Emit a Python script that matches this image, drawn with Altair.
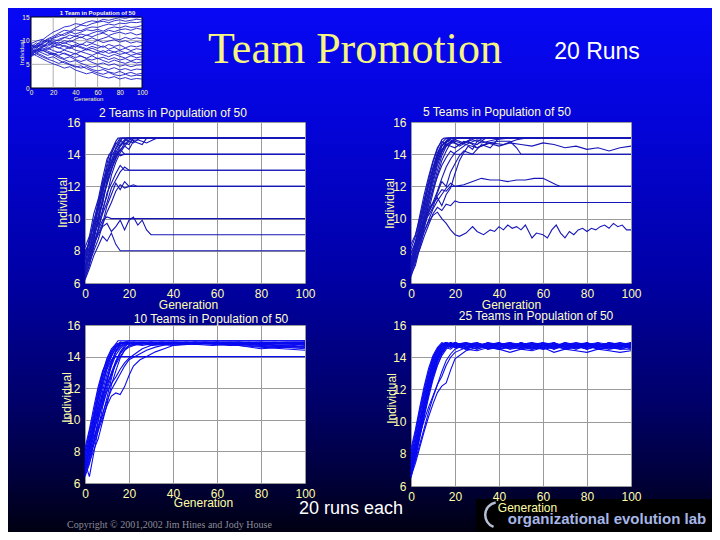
import altair as alt
import pandas as pd

# ---------------- data ----------------
x_ticks = [0, 20, 40, 60, 80, 100]
y_ticks = [6, 8, 10, 12, 14, 16]
small_y_ticks = [0, 5, 10, 15]
small_grid_x = [20, 40, 60, 80]
small_grid_y = [5, 10]

panel_titles = ["2 Teams in Population of 50", "5 Teams in Population of 50",
                "10 Teams in Population of 50", "25 Teams in Population of 50"]
small_title = "1 Team in Population of 50"
main_title = "Team Promotion"
runs_label = "20 Runs"
each_label = "20 runs each"
copyright_label = "Copyright \u00a9 2001,2002 Jim Hines and Jody House"
lab_label = "organizational evolution lab"

# 1 team: generations every 5
small_gens = list(range(0, 101, 5))
small_runs = [
    [8.0, 9.2, 10.1, 11.0, 11.8, 12.3, 12.9, 13.1, 13.6, 13.4, 13.9, 14.2, 14.0, 14.5, 14.3, 14.6, 14.9, 14.7, 15.0, 14.8, 15.0],
    [7.5, 8.4, 9.6, 10.4, 10.9, 11.6, 12.2, 12.0, 12.7, 13.3, 13.1, 13.6, 13.9, 14.1, 13.8, 14.2, 14.4, 14.1, 14.3, 14.5, 14.4],
    [8.6, 9.0, 9.8, 10.2, 10.6, 11.3, 11.1, 11.7, 12.3, 12.1, 12.6, 12.9, 12.8, 13.2, 13.5, 13.3, 13.7, 13.6, 13.9, 13.8, 14.0],
    [9.4, 9.9, 10.3, 9.7, 10.5, 10.9, 11.5, 11.9, 11.4, 11.8, 12.3, 12.1, 12.4, 12.0, 12.6, 12.9, 12.7, 13.1, 12.8, 12.9, 13.2],
    [7.2, 8.1, 8.8, 9.5, 10.2, 10.0, 10.6, 11.2, 10.9, 11.4, 11.1, 11.6, 12.0, 11.7, 12.2, 11.9, 12.3, 12.5, 12.2, 12.6, 12.4],
    [8.3, 8.8, 9.4, 10.1, 9.6, 10.3, 10.7, 10.4, 11.0, 10.6, 11.2, 10.8, 11.3, 11.6, 11.1, 11.5, 11.8, 11.4, 11.7, 11.2, 11.5],
    [6.8, 7.9, 8.6, 9.1, 9.8, 9.4, 10.0, 9.7, 10.3, 10.8, 10.2, 10.6, 10.1, 10.5, 10.9, 10.4, 10.2, 10.7, 10.3, 10.6, 10.4],
    [9.0, 8.5, 9.3, 9.9, 9.2, 9.7, 9.4, 10.0, 9.6, 9.1, 9.8, 9.5, 10.1, 9.6, 9.9, 10.2, 9.7, 10.0, 9.5, 9.8, 9.6],
    [7.9, 8.7, 9.2, 8.8, 9.5, 9.0, 9.6, 9.1, 8.7, 9.3, 8.9, 9.4, 9.0, 8.6, 9.2, 8.8, 9.1, 8.5, 8.9, 8.7, 9.0],
    [8.5, 9.1, 8.6, 9.4, 8.9, 8.4, 9.0, 8.6, 9.2, 8.7, 8.3, 8.8, 8.4, 8.9, 8.2, 8.6, 8.0, 8.4, 7.9, 8.3, 8.1],
    [7.0, 7.8, 8.5, 8.1, 8.7, 9.2, 8.8, 8.3, 8.9, 8.5, 8.0, 8.4, 7.9, 7.5, 8.0, 7.6, 7.9, 7.4, 7.7, 7.3, 7.5],
    [8.8, 9.5, 9.0, 8.4, 8.9, 8.5, 8.1, 8.6, 8.0, 7.7, 8.2, 7.8, 7.4, 7.9, 7.3, 7.6, 7.1, 7.4, 6.9, 7.2, 7.0],
    [7.6, 8.2, 7.8, 8.4, 7.9, 7.5, 8.0, 7.6, 7.2, 7.7, 7.3, 6.9, 7.4, 7.0, 6.6, 7.1, 6.7, 6.3, 6.8, 6.4, 6.6],
    [6.6, 7.4, 8.0, 7.5, 7.1, 7.6, 7.2, 6.8, 7.3, 6.7, 6.3, 6.8, 6.2, 6.5, 6.0, 6.4, 5.9, 6.2, 5.7, 6.1, 5.9],
    [8.2, 7.7, 8.3, 7.8, 7.3, 6.9, 7.4, 6.9, 6.4, 6.8, 6.2, 5.9, 6.3, 5.8, 5.4, 5.9, 5.5, 5.2, 5.6, 5.3, 5.5],
    [7.3, 7.9, 7.4, 6.9, 7.3, 6.7, 6.2, 6.6, 6.0, 5.6, 6.0, 5.4, 5.0, 5.3, 4.8, 5.1, 4.6, 4.9, 4.5, 4.8, 4.9],
    [9.2, 8.6, 8.0, 7.4, 7.0, 6.4, 6.0, 5.5, 5.8, 5.2, 4.8, 4.4, 4.7, 4.2, 3.9, 4.3, 3.8, 4.1, 3.7, 4.0, 3.9],
    [6.9, 7.2, 6.6, 6.1, 5.7, 5.2, 5.6, 5.0, 4.6, 4.2, 4.5, 3.9, 3.6, 3.9, 3.4, 3.1, 3.5, 3.0, 3.3, 2.9, 3.1],
    [8.0, 7.4, 6.9, 6.3, 6.6, 5.9, 5.3, 4.9, 4.4, 4.7, 4.1, 3.6, 3.2, 2.9, 3.3, 2.8, 2.6, 2.9, 2.5, 2.7, 2.6],
    [7.4, 6.8, 6.2, 5.6, 5.1, 4.7, 4.2, 4.5, 3.8, 3.4, 3.0, 3.3, 2.8, 2.4, 2.1, 2.4, 1.9, 2.2, 1.8, 2.0, 1.9],
]

# 2 teams: [generation, individual] points per run
p1_runs = [
    [[0, 7.0], [2, 8.3], [4, 9.1], [6, 10.6], [8, 11.7], [10, 13.2], [12, 14.1], [14, 14.6], [16, 15], [100, 15]],
    [[0, 6.5], [2, 7.9], [4, 9.4], [6, 10.1], [8, 11.9], [10, 12.6], [12, 13.9], [14, 14.3], [17, 15], [100, 15]],
    [[0, 8.2], [2, 8.9], [4, 10.3], [6, 11.2], [8, 12.5], [10, 13.7], [12, 14.2], [14, 14.8], [15, 15], [100, 15]],
    [[0, 7.6], [2, 7.4], [4, 8.8], [6, 9.9], [8, 11.0], [10, 12.2], [12, 13.1], [14, 13.9], [16, 14.5], [18, 14.8], [20, 15], [100, 15]],
    [[0, 6.9], [2, 8.0], [4, 8.6], [6, 10.2], [8, 10.9], [10, 12.4], [12, 13.4], [14, 14.0], [16, 14.2], [18, 14.7], [20, 14.6], [22, 15], [100, 15]],
    [[0, 7.8], [2, 8.6], [4, 9.9], [6, 10.8], [8, 12.3], [10, 13.0], [12, 13.6], [14, 14.4], [16, 14.9], [18, 14.6], [20, 14.9], [24, 15], [100, 15]],
    [[0, 6.3], [2, 7.1], [4, 8.4], [6, 9.3], [8, 10.6], [10, 11.4], [12, 12.7], [14, 13.5], [16, 14.1], [18, 14.5], [20, 14.3], [22, 14.8], [26, 14.6], [28, 15], [100, 15]],
    [[0, 7.4], [2, 8.7], [4, 9.0], [6, 10.9], [8, 11.5], [10, 12.8], [12, 13.3], [14, 14.1], [16, 14.6], [18, 14.9], [22, 14.7], [25, 15], [100, 15]],
    [[0, 8.0], [2, 8.4], [4, 9.7], [6, 11.1], [8, 12.0], [10, 12.9], [12, 14.0], [14, 14.7], [16, 14.5], [19, 15], [100, 15]],
    [[0, 7.1], [2, 7.7], [4, 9.2], [6, 9.6], [8, 11.3], [10, 12.1], [12, 13.0], [14, 13.8], [16, 14.3], [18, 14.5], [20, 14.8], [24, 14.9], [28, 14.7], [31, 14.9], [33, 15], [100, 15]],
    [[0, 7.3], [2, 8.8], [4, 9.5], [6, 10.7], [8, 12.1], [10, 13.4], [11, 14], [100, 14]],
    [[0, 6.7], [2, 7.5], [4, 8.9], [6, 10.0], [8, 11.2], [10, 12.3], [12, 13.1], [14, 13.7], [16, 14.3], [18, 14.0], [100, 14]],
    [[0, 7.9], [2, 8.5], [4, 9.8], [6, 10.5], [8, 11.6], [10, 12.7], [12, 13.5], [14, 14.2], [16, 13.9], [18, 14], [100, 14]],
    [[0, 6.6], [2, 7.3], [4, 8.2], [6, 9.4], [8, 10.3], [10, 11.0], [12, 11.9], [14, 12.4], [16, 12.9], [18, 13.2], [20, 13.0], [100, 13]],
    [[0, 7.5], [2, 8.1], [4, 8.7], [6, 9.8], [8, 10.4], [10, 11.6], [12, 12.2], [14, 12.8], [16, 13.3], [18, 13.0], [100, 13]],
    [[0, 7.0], [2, 7.6], [4, 8.3], [6, 9.1], [8, 9.7], [10, 10.8], [12, 11.5], [14, 12.2], [16, 11.8], [18, 12.3], [20, 12.0], [22, 12.1], [24, 12], [100, 12]],
    [[0, 6.4], [2, 7.2], [4, 8.0], [6, 8.7], [8, 9.6], [10, 10.4], [12, 11.0], [14, 11.7], [16, 12.1], [18, 11.9], [20, 12], [100, 12]],
    [[0, 7.7], [2, 8.2], [4, 8.5], [6, 9.3], [8, 9.9], [10, 10.1], [12, 10.0], [14, 10], [100, 10]],
    [[0, 6.8], [2, 7.8], [4, 8.4], [6, 9.0], [8, 9.5], [10, 9.7], [12, 9.2], [14, 9.5], [16, 9.9], [18, 9.3], [20, 9.9], [22, 10.1], [24, 9.6], [26, 9.9], [28, 9.3], [30, 9.0], [100, 9]],
    [[0, 6.2], [2, 6.9], [4, 7.7], [6, 8.3], [8, 8.9], [10, 8.6], [12, 9.1], [14, 8.4], [16, 8], [100, 8]],
]

# 5 teams
p2_runs = [
    [[0, 7.0], [2, 8.2], [4, 9.5], [6, 10.8], [8, 12.0], [10, 13.1], [12, 14.0], [14, 14.7], [16, 15], [100, 15]],
    [[0, 6.6], [2, 7.6], [4, 8.9], [6, 10.3], [8, 11.4], [10, 12.6], [12, 13.7], [14, 14.5], [17, 15], [100, 15]],
    [[0, 7.8], [2, 8.6], [4, 9.9], [6, 11.2], [8, 12.4], [10, 13.5], [12, 14.3], [14, 14.9], [15, 15], [100, 15]],
    [[0, 7.3], [2, 8.0], [4, 9.2], [6, 10.0], [8, 11.1], [10, 12.2], [12, 13.3], [14, 14.1], [16, 14.7], [18, 15], [100, 15]],
    [[0, 6.4], [2, 7.3], [4, 8.5], [6, 9.7], [8, 10.8], [10, 11.9], [12, 13.0], [14, 13.9], [16, 14.5], [18, 14.8], [20, 15], [100, 15]],
    [[0, 8.1], [2, 8.9], [4, 10.2], [6, 11.5], [8, 12.6], [10, 13.6], [12, 14.4], [14, 14.8], [16, 14.6], [20, 14.9], [24, 14.7], [28, 15], [100, 15]],
    [[0, 7.5], [2, 8.4], [4, 9.3], [6, 10.6], [8, 11.7], [10, 12.9], [12, 13.8], [14, 14.3], [16, 14.6], [20, 14.4], [24, 14.8], [30, 14.6], [34, 15], [100, 15]],
    [[0, 6.9], [2, 7.8], [4, 9.0], [6, 10.1], [8, 11.3], [10, 12.4], [12, 13.5], [14, 14.2], [16, 14.8], [22, 14.6], [28, 14.9], [32, 14.7], [38, 14.9], [44, 15], [100, 15]],
    [[0, 7.2], [2, 8.3], [4, 9.7], [6, 10.9], [8, 12.2], [10, 13.2], [12, 14.1], [14, 14.6], [18, 14.9], [22, 14.5], [26, 14.8], [30, 14.4], [36, 14.7], [42, 14.6], [48, 14.9], [52, 15], [100, 15]],
    [[0, 6.5], [2, 7.1], [4, 8.2], [6, 9.4], [8, 10.5], [10, 11.6], [12, 12.7], [14, 13.6], [16, 14.2], [18, 14.7], [21, 15], [100, 15]],
    [[0, 8.4], [2, 9.0], [4, 10.0], [6, 11.1], [8, 12.1], [10, 13.0], [12, 13.9], [14, 14.5], [17, 14.9], [19, 15], [100, 15]],
    [[0, 7.0], [2, 7.9], [4, 8.7], [6, 9.6], [8, 10.4], [10, 10.9], [12, 11.3], [14, 10.8], [16, 11.5], [18, 11.9], [20, 12.8], [22, 13.6], [24, 14.1], [26, 14.5], [28, 14.3], [30, 14.8], [33, 15], [100, 15]],
    [[0, 7.6], [2, 8.1], [4, 9.1], [6, 9.9], [8, 10.2], [10, 10.7], [12, 11.6], [14, 12.3], [16, 12.0], [18, 12.9], [20, 13.4], [22, 13.9], [24, 14.2], [28, 14.0], [32, 14.6], [36, 14.4], [40, 15], [100, 15]],
    [[0, 6.8], [2, 7.7], [4, 8.8], [6, 9.8], [8, 10.9], [10, 11.8], [12, 12.6], [14, 13.3], [16, 13.8], [18, 14.2], [20, 14], [100, 14]],
    [[0, 7.4], [2, 8.5], [4, 9.4], [6, 10.5], [8, 11.6], [10, 12.7], [12, 13.6], [14, 14.2], [16, 14.5], [20, 14.8], [25, 14.6], [30, 14.9], [35, 14.7], [40, 14.8], [45, 14.8], [48, 14.4], [50, 14], [100, 14]],
    [[0, 7.1], [2, 7.7], [4, 8.6], [6, 9.5], [8, 10.4], [10, 11.0], [12, 11.7], [14, 12.5], [16, 13.2], [18, 13.7], [20, 14.1], [22, 14.3], [25, 14.6], [30, 14.4], [35, 14.7], [40, 14.5], [45, 14.7], [50, 14.6], [55, 14.5], [60, 14.7], [65, 14.6], [70, 14.4], [75, 14.5], [80, 14.3], [85, 14.4], [90, 14.2], [95, 14.4], [100, 14.5]],
    [[0, 6.7], [2, 7.4], [4, 8.3], [6, 9.2], [8, 9.9], [10, 10.6], [12, 11.1], [14, 11.5], [16, 11.9], [18, 12.2], [20, 12.0], [24, 12.1], [28, 12.3], [32, 12.5], [36, 12.4], [40, 12.4], [44, 12.3], [48, 12.4], [52, 12.4], [56, 12.5], [60, 12.5], [63, 12.3], [66, 12.1], [68, 12], [100, 12]],
    [[0, 7.9], [2, 8.4], [4, 9.0], [6, 9.8], [8, 10.6], [10, 11.0], [12, 11.4], [14, 11.8], [16, 11.7], [18, 12], [100, 12]],
    [[0, 6.9], [2, 7.5], [4, 8.1], [6, 8.9], [8, 9.6], [10, 10.3], [12, 10.7], [14, 10.5], [16, 10.9], [18, 10.8], [20, 11.1], [22, 11], [100, 11]],
    [[0, 7.3], [2, 7.9], [4, 8.6], [6, 9.2], [8, 9.8], [10, 10.2], [12, 10.4], [14, 10.0], [16, 9.7], [18, 9.3], [20, 9.0], [22, 8.9], [25, 9.1], [28, 9.5], [30, 9.2], [33, 9.0], [36, 9.3], [38, 9.2], [40, 9.5], [42, 9.3], [44, 9.6], [46, 9.4], [48, 9.5], [50, 9.3], [52, 9.6], [55, 8.8], [57, 9.1], [60, 9.0], [62, 8.8], [64, 9.3], [66, 9.6], [68, 9.1], [70, 8.8], [72, 9.2], [74, 9.0], [76, 9.3], [78, 9.4], [80, 9.2], [82, 9.4], [84, 9.3], [86, 9.5], [88, 9.6], [90, 9.4], [92, 9.7], [94, 9.5], [96, 9.6], [98, 9.3], [100, 9.3]],
]

# 10 teams
p3_runs = [
    [[0, 7.2], [2, 8.6], [4, 10.0], [6, 11.4], [8, 12.6], [10, 13.6], [12, 14.3], [14, 14.8], [15, 15], [100, 15]],
    [[0, 6.8], [2, 8.1], [4, 9.5], [6, 10.9], [8, 12.1], [10, 13.2], [12, 13.8], [14, 14], [100, 14]],
    [[0, 7.6], [2, 8.9], [4, 10.3], [6, 11.7], [8, 12.9], [10, 13.8], [12, 14.4], [14, 14.7], [16, 14.9], [20, 14.8], [25, 14.9], [30, 14.7], [40, 14.8], [50, 14.9], [60, 14.8], [70, 14.7], [80, 14.6], [90, 14.5], [100, 14.4]],
    [[0, 6.5], [2, 7.7], [4, 9.1], [6, 10.6], [8, 11.8], [10, 12.9], [12, 13.7], [14, 14.3], [16, 14.6], [18, 14.9], [25, 14.8], [35, 14.9], [45, 14.8], [55, 14.9], [65, 14.8], [75, 14.7], [85, 14.6], [95, 14.7], [100, 14.6]],
    [[0, 7.9], [2, 9.2], [4, 10.5], [6, 11.9], [8, 13.0], [10, 13.9], [12, 14.5], [14, 14.8], [18, 14.9], [26, 14.7], [34, 14.9], [44, 14.8], [54, 14.9], [64, 14.8], [74, 14.9], [84, 14.8], [94, 14.9], [100, 14.9]],
    [[0, 7.0], [2, 8.0], [4, 9.3], [6, 10.4], [8, 11.5], [10, 12.5], [12, 13.4], [14, 14.1], [16, 14.5], [18, 14.8], [22, 14.9], [30, 14.8], [40, 14.7], [50, 14.9], [60, 14.9], [70, 14.8], [80, 14.9], [90, 14.8], [100, 14.9]],
    [[0, 7.4], [2, 8.4], [4, 9.8], [6, 11.0], [8, 12.3], [10, 13.4], [12, 14.0], [14, 14.6], [16, 14.9], [24, 14.8], [32, 14.9], [42, 14.9], [52, 14.8], [62, 14.9], [72, 14.9], [82, 14.8], [92, 14.9], [100, 14.8]],
    [[0, 6.6], [2, 7.5], [4, 8.7], [6, 10.0], [8, 11.1], [10, 12.1], [12, 13.0], [14, 13.7], [16, 14.2], [18, 14.5], [20, 14.7], [28, 14.8], [38, 14.9], [48, 14.8], [58, 14.7], [68, 14.8], [78, 14.9], [88, 14.8], [100, 14.8]],
    [[0, 8.2], [2, 9.4], [4, 10.8], [6, 12.1], [8, 13.1], [10, 13.7], [12, 14.1], [14, 14.5], [16, 14.8], [20, 15], [100, 15]],
    [[0, 7.1], [2, 8.2], [4, 9.6], [6, 10.7], [8, 11.6], [10, 12.3], [12, 12.9], [14, 13.5], [16, 14.0], [18, 14.4], [20, 14.6], [24, 14.8], [30, 14.9], [40, 14.8], [50, 14.9], [60, 14.8], [70, 14.7], [80, 14.5], [90, 14.6], [100, 14.7]],
    [[0, 6.9], [2, 7.6], [4, 8.4], [6, 9.3], [8, 10.1], [10, 10.9], [12, 11.5], [14, 11.7], [16, 11.6], [18, 12.1], [20, 12.8], [22, 13.4], [25, 13.8], [28, 14.0], [32, 14.3], [36, 14.5], [40, 14.7], [50, 14.8], [60, 14.9], [70, 14.8], [80, 14.7], [90, 14.6], [100, 14.5]],
    [[0, 7.5], [2, 8.0], [4, 8.9], [6, 9.6], [8, 10.4], [10, 11.2], [12, 11.9], [14, 12.4], [16, 12.9], [18, 13.4], [20, 13.8], [24, 14.1], [28, 14.4], [32, 14.6], [38, 14.8], [46, 14.9], [56, 14.8], [66, 14.9], [76, 14.8], [86, 14.9], [100, 14.8]],
    [[0, 7.8], [2, 8.7], [4, 9.9], [6, 11.3], [8, 12.4], [10, 13.3], [12, 14.0], [14, 14.6], [16, 14.8], [22, 14.9], [30, 14.8], [40, 14.9], [50, 14.9], [60, 14.8], [70, 14.9], [80, 14.8], [90, 14.7], [100, 14.8]],
    [[0, 7.3], [2, 6.4], [4, 7.9], [6, 9.4], [8, 10.8], [10, 11.9], [12, 12.8], [14, 13.6], [16, 14.2], [18, 14.6], [20, 14.9], [30, 14.9], [40, 14.8], [50, 14.9], [60, 14.9], [70, 14.9], [80, 14.8], [90, 14.9], [100, 14.9]],
    [[0, 6.7], [2, 7.3], [4, 8.1], [6, 8.8], [8, 9.9], [10, 11.0], [12, 12.2], [14, 13.1], [16, 13.9], [18, 14.4], [20, 14.7], [26, 14.9], [36, 14.8], [46, 14.9], [56, 14.8], [66, 14.7], [76, 14.8], [86, 14.7], [100, 14.6]],
    [[0, 8.0], [2, 9.0], [4, 10.1], [6, 11.5], [8, 12.7], [10, 13.5], [12, 14.2], [14, 14.7], [16, 14.9], [20, 14.9], [30, 14.9], [50, 14.8], [70, 14.9], [100, 14.9]],
    [[0, 7.0], [2, 7.8], [4, 8.6], [6, 9.5], [8, 10.3], [10, 11.4], [12, 12.6], [14, 13.7], [16, 14.3], [18, 14.7], [20, 14.8], [30, 14.9], [40, 14.9], [50, 14.8], [60, 14.9], [70, 14.8], [80, 14.8], [90, 14.7], [100, 14.8]],
    [[0, 7.7], [2, 8.5], [4, 9.4], [6, 10.2], [8, 11.0], [10, 11.8], [12, 12.3], [14, 12.7], [16, 13.2], [18, 13.6], [20, 13.9], [23, 14.2], [26, 14.5], [30, 14.7], [35, 14.9], [45, 14.8], [55, 14.9], [65, 14.8], [75, 14.9], [85, 14.8], [100, 14.9]],
    [[0, 6.4], [2, 7.2], [4, 8.5], [6, 9.9], [8, 11.2], [10, 12.4], [12, 13.5], [14, 14.3], [16, 14.8], [20, 14.9], [30, 14.8], [40, 14.9], [50, 14.9], [60, 14.9], [70, 14.8], [80, 14.9], [90, 14.8], [100, 14.8]],
    [[0, 7.4], [2, 8.3], [4, 9.2], [6, 10.3], [8, 11.4], [10, 12.6], [12, 13.6], [14, 14.4], [16, 14.7], [20, 14.8], [30, 14.9], [40, 14.8], [50, 14.8], [60, 14.9], [70, 14.9], [80, 14.7], [90, 14.6], [100, 14.6]],
]

# 25 teams: common generation grid
p4_gens = [0, 2, 4, 6, 8, 10, 12, 14, 16, 18, 20, 25, 30, 35, 40, 45, 50, 55, 60, 65, 70, 75, 80, 85, 90, 95, 100]
p4_runs = [
    [7.2, 8.5, 9.9, 11.2, 12.4, 13.4, 14.1, 14.6, 14.9, 14.8, 14.7, 14.9, 14.6, 14.8, 14.5, 14.7, 14.9, 14.6, 14.8, 14.5, 14.7, 14.6, 14.8, 14.5, 14.7, 14.9, 14.8],
    [6.6, 7.9, 9.3, 10.6, 11.9, 13.0, 13.9, 14.5, 14.8, 14.9, 14.6, 14.8, 14.9, 14.7, 14.8, 14.6, 14.8, 14.9, 14.7, 14.9, 14.6, 14.8, 14.7, 14.9, 14.8, 14.6, 14.7],
    [7.8, 9.0, 10.4, 11.7, 12.8, 13.8, 14.4, 14.8, 14.9, 14.7, 14.9, 14.6, 14.8, 14.5, 14.7, 14.9, 14.6, 14.8, 14.6, 14.7, 14.9, 14.5, 14.7, 14.8, 14.6, 14.8, 14.5],
    [7.0, 8.2, 9.6, 10.9, 12.2, 13.2, 14.0, 14.5, 14.7, 14.9, 14.8, 14.5, 14.7, 14.9, 14.6, 14.8, 14.5, 14.7, 14.9, 14.6, 14.8, 14.7, 14.5, 14.7, 14.9, 14.7, 14.9],
    [6.5, 7.7, 9.0, 10.3, 11.5, 12.6, 13.5, 14.2, 14.6, 14.8, 14.9, 14.7, 14.5, 14.8, 14.9, 14.6, 14.7, 14.5, 14.6, 14.8, 14.5, 14.7, 14.9, 14.6, 14.5, 14.7, 14.6],
    [8.1, 9.3, 10.7, 12.0, 13.1, 14.0, 14.5, 14.8, 14.7, 14.9, 14.8, 14.9, 14.7, 14.6, 14.8, 14.9, 14.7, 14.9, 14.8, 14.6, 14.7, 14.9, 14.8, 14.7, 14.9, 14.8, 14.9],
    [7.4, 8.6, 10.0, 11.3, 12.6, 13.6, 14.3, 14.7, 14.9, 14.6, 14.8, 14.6, 14.9, 14.7, 14.5, 14.6, 14.8, 14.6, 14.5, 14.7, 14.8, 14.6, 14.9, 14.7, 14.6, 14.5, 14.7],
    [6.8, 8.0, 9.4, 10.8, 12.0, 13.1, 13.9, 14.4, 14.7, 14.8, 14.6, 14.8, 14.6, 14.9, 14.7, 14.5, 14.9, 14.7, 14.9, 14.8, 14.5, 14.8, 14.6, 14.8, 14.7, 14.9, 14.6],
    [7.6, 8.8, 10.1, 11.5, 12.7, 13.7, 14.4, 14.8, 14.9, 14.8, 14.7, 14.5, 14.8, 14.6, 14.9, 14.7, 14.5, 14.8, 14.7, 14.5, 14.9, 14.7, 14.6, 14.9, 14.5, 14.6, 14.8],
    [7.1, 8.3, 9.7, 11.0, 12.3, 13.3, 14.1, 14.6, 14.8, 14.6, 14.9, 14.7, 14.5, 14.7, 14.8, 14.9, 14.6, 14.5, 14.8, 14.9, 14.7, 14.5, 14.8, 14.6, 14.8, 14.5, 14.5],
    [6.9, 8.1, 9.2, 10.5, 11.8, 12.9, 13.8, 14.4, 14.7, 14.9, 14.7, 14.9, 14.8, 14.5, 14.6, 14.8, 14.7, 14.9, 14.6, 14.8, 14.6, 14.8, 14.5, 14.7, 14.9, 14.8, 14.6],
    [8.3, 9.5, 10.9, 12.2, 13.3, 14.1, 14.6, 14.9, 14.8, 14.7, 14.8, 14.6, 14.7, 14.9, 14.8, 14.6, 14.9, 14.6, 14.8, 14.7, 14.8, 14.6, 14.7, 14.5, 14.6, 14.8, 14.7],
    [7.3, 8.4, 9.8, 11.1, 12.4, 13.5, 14.2, 14.7, 14.9, 14.8, 14.6, 14.8, 14.9, 14.6, 14.5, 14.7, 14.8, 14.9, 14.5, 14.6, 14.9, 14.8, 14.6, 14.8, 14.7, 14.6, 14.9],
    [6.7, 7.8, 9.1, 10.4, 11.7, 12.8, 13.7, 14.3, 14.6, 14.8, 14.9, 14.6, 14.8, 14.7, 14.9, 14.5, 14.6, 14.8, 14.9, 14.7, 14.5, 14.6, 14.8, 14.9, 14.6, 14.7, 14.8],
    [7.9, 9.1, 10.5, 11.8, 13.0, 13.9, 14.5, 14.8, 14.9, 14.7, 14.8, 14.9, 14.6, 14.8, 14.6, 14.9, 14.8, 14.6, 14.7, 14.9, 14.6, 14.9, 14.7, 14.6, 14.8, 14.9, 14.7],
    [7.0, 8.0, 9.3, 10.6, 11.8, 12.8, 13.5, 14.1, 14.5, 14.7, 14.9, 14.7, 14.8, 14.5, 14.8, 14.6, 14.9, 14.7, 14.6, 14.8, 14.7, 14.8, 14.9, 14.5, 14.7, 14.6, 14.9],
    [6.6, 7.4, 8.4, 9.4, 10.3, 11.1, 11.8, 12.2, 12.4, 13.2, 13.9, 14.4, 14.6, 14.8, 14.7, 14.9, 14.6, 14.8, 14.5, 14.7, 14.8, 14.6, 14.9, 14.7, 14.8, 14.6, 14.8],
    [7.5, 8.2, 9.2, 10.1, 10.9, 11.6, 12.3, 12.8, 13.5, 14.0, 14.3, 14.6, 14.8, 14.6, 14.9, 14.7, 14.8, 14.5, 14.7, 14.9, 14.6, 14.7, 14.5, 14.8, 14.6, 14.7, 14.6],
    [6.9, 7.6, 8.6, 9.6, 10.6, 11.5, 12.3, 13.1, 13.8, 14.2, 14.5, 14.8, 14.7, 14.9, 14.6, 14.8, 14.7, 14.6, 14.9, 14.5, 14.8, 14.9, 14.7, 14.6, 14.9, 14.5, 14.7],
    [7.7, 8.7, 9.9, 11.2, 12.3, 13.2, 13.9, 14.3, 14.6, 14.5, 14.7, 14.5, 14.4, 14.6, 14.5, 14.3, 14.5, 14.4, 14.6, 14.3, 14.5, 14.4, 14.3, 14.5, 14.4, 14.3, 14.4],
]

# ---------------- styling ----------------
SANS = "Liberation Sans"
SERIF = "Liberation Serif"
LAB = "#ffffa8"
TTL = "#ffffd2"
GRID = "#9a9a9a"


def pairs_df(runs):
    return pd.DataFrame([{"run": i, "gen": g, "val": v}
                         for i, run in enumerate(runs) for g, v in run])


def grid_df(gens, runs):
    return pd.DataFrame([{"run": i, "gen": g, "val": v}
                         for i, run in enumerate(runs) for g, v in zip(gens, run)])


def one(text):
    return pd.DataFrame({"t": [text]})


# ---------------- small "1 team" chart + slide decorations ----------------
small_df = grid_df(small_gens, small_runs)

sx_scale = alt.Scale(domain=[0, 100], range=[-54, 57], nice=False, zero=False)
sy_scale = alt.Scale(domain=[0, 15], range=[9, -62], nice=False, zero=False)
sx_axis = alt.Axis(values=x_ticks, offset=8, domain=False, ticks=False, grid=False, zindex=5,
                   labelFont=SANS, labelFontSize=6.5, labelColor=LAB, labelPadding=1,
                   labelFlush=False, labelOverlap=False,
                   title="Generation", titleFont=SANS, titleFontSize=6, titleFontWeight="normal",
                   titleColor=LAB, titleX=3, titleY=12, titleAlign="center", titleBaseline="alphabetic")
sy_axis = alt.Axis(values=small_y_ticks, offset=54, domain=False, ticks=False, grid=False, zindex=5,
                   labelFont=SANS, labelFontSize=6.5, labelColor=LAB, labelPadding=2,
                   labelFlush=False, labelOverlap=False,
                   title="Individual", titleFont=SANS, titleFontSize=6, titleFontWeight="normal",
                   titleColor=LAB, titleAngle=270, titleX=-10, titleY=-27,
                   titleAlign="center", titleBaseline="middle")

grad = alt.Gradient(
    gradient="linear", x1=0, y1=0, x2=0, y2=1,
    stops=[alt.GradientStop(offset=0, color="#0808f5"),
           alt.GradientStop(offset=0.2, color="#0404dc"),
           alt.GradientStop(offset=0.5, color="#0000a8"),
           alt.GradientStop(offset=0.75, color="#00006a"),
           alt.GradientStop(offset=0.9, color="#00003a"),
           alt.GradientStop(offset=1, color="#000012")])

bg = alt.Chart(one("bg")).mark_rect(fill=grad).encode(
    x=alt.value(-77), x2=alt.value(627), y=alt.value(-71), y2=alt.value(453))
banner = alt.Chart(one("banner")).mark_rect(fill="#000000").encode(
    x=alt.value(391), x2=alt.value(627), y=alt.value(420), y2=alt.value(453))
swoosh = alt.Chart(one("arc")).mark_arc(radius=14, radius2=11.5, theta=3.5, theta2=6.1,
                                        color="#b4bfd6").encode(x=alt.value(413), y=alt.value(436))
t_main = alt.Chart(one(main_title)).mark_text(font=SERIF, fontSize=44, color="#f5f580",
                                              align="center", baseline="alphabetic").encode(
    text="t:N", x=alt.value(270), y=alt.value(-16))
t_runs = alt.Chart(one(runs_label)).mark_text(font=SANS, fontSize=23, color="#ffffff",
                                              align="center", baseline="alphabetic").encode(
    text="t:N", x=alt.value(512), y=alt.value(-20))
t_each = alt.Chart(one(each_label)).mark_text(font=SANS, fontSize=18, color="#ffffff",
                                              align="center", baseline="alphabetic").encode(
    text="t:N", x=alt.value(266), y=alt.value(435))
t_copy = alt.Chart(one(copyright_label)).mark_text(font=SERIF, fontSize=10, color="#8c8c98",
                                                   align="left", baseline="alphabetic").encode(
    text="t:N", x=alt.value(-18), y=alt.value(449))
t_lab = alt.Chart(one(lab_label)).mark_text(font=SANS, fontSize=15, fontWeight="bold", color="#a6b6e6",
                                            align="center", baseline="alphabetic").encode(
    text="t:N", x=alt.value(522), y=alt.value(445))
t_small = alt.Chart(one(small_title)).mark_text(font=SANS, fontSize=6, fontWeight="bold", color=TTL,
                                                align="center", baseline="alphabetic").encode(
    text="t:N", x=alt.value(12.5), y=alt.value(-64))

s_box = alt.Chart(one("box")).mark_rect(fill="white", stroke="black", strokeWidth=1).encode(
    x=alt.X(datum=0, scale=sx_scale, axis=sx_axis), x2=alt.X2(datum=100),
    y=alt.Y(datum=0, scale=sy_scale, axis=sy_axis), y2=alt.Y2(datum=15))
s_vgrid = alt.Chart(pd.DataFrame({"g": small_grid_x})).mark_rule(color=GRID, strokeWidth=0.8).encode(
    x=alt.X("g:Q", scale=sx_scale, axis=sx_axis),
    y=alt.Y(datum=0, scale=sy_scale, axis=sy_axis), y2=alt.Y2(datum=15))
s_hgrid = alt.Chart(pd.DataFrame({"g": small_grid_y})).mark_rule(color=GRID, strokeWidth=0.8).encode(
    y=alt.Y("g:Q", scale=sy_scale, axis=sy_axis),
    x=alt.X(datum=0, scale=sx_scale, axis=sx_axis), x2=alt.X2(datum=100))
s_lines = alt.Chart(small_df).mark_line(color="#1c1cc8", strokeWidth=0.9).encode(
    x=alt.X("gen:Q", scale=sx_scale, axis=sx_axis),
    y=alt.Y("val:Q", scale=sy_scale, axis=sy_axis),
    detail="run:N")

small = alt.layer(bg, banner, swoosh, t_main, t_runs, t_each, t_copy, t_lab, t_small,
                  s_box, s_vgrid, s_hgrid, s_lines).properties(width=1, height=1)

blank = alt.Chart(one("blank")).mark_point(opacity=0).encode(
    x=alt.value(0), y=alt.value(0)).properties(width=1, height=1)


# ---------------- the four panels ----------------
def panel(df, title, tpos, xt, yt, color, h):
    X = alt.X("gen:Q", scale=alt.Scale(domain=[0, 100], nice=False, zero=False),
              axis=alt.Axis(values=x_ticks, grid=True, gridColor=GRID, gridWidth=1, gridOpacity=1,
                            domain=False, ticks=False, labelFont=SANS, labelFontSize=12,
                            labelColor=LAB, labelPadding=5, labelFlush=False, labelOverlap=False,
                            title="Generation", titleFont=SANS, titleFontSize=12,
                            titleFontWeight="normal", titleColor=LAB, titleX=xt[0], titleY=xt[1],
                            titleAlign="center", titleBaseline="alphabetic"))
    Y = alt.Y("val:Q", scale=alt.Scale(domain=[6, 16], nice=False, zero=False),
              axis=alt.Axis(values=y_ticks, grid=True, gridColor=GRID, gridWidth=1, gridOpacity=1,
                            domain=False, ticks=False, labelFont=SANS, labelFontSize=12,
                            labelColor=LAB, labelPadding=5, labelFlush=False, labelOverlap=False,
                            title="Individual", titleFont=SANS, titleFontSize=12,
                            titleFontWeight="normal", titleColor=LAB, titleAngle=270,
                            titleX=yt[0], titleY=yt[1], titleAlign="center", titleBaseline="middle"))
    lines = alt.Chart(df).mark_line(color=color, strokeWidth=1.1).encode(X, Y, detail="run:N")
    ttl = alt.Chart(one(title)).mark_text(font=SANS, fontSize=12, color=TTL, align="center",
                                          baseline="alphabetic").encode(
        text="t:N", x=alt.value(tpos[0]), y=alt.value(tpos[1]))
    return alt.layer(lines, ttl).properties(
        width=220, height=h,
        view=alt.ViewBackground(fill="white", stroke="#000000", strokeWidth=1))


p1 = panel(pairs_df(p1_runs), panel_titles[0], (88, -5), (103, 25), (-23, 80), "#1616b8", 161)
p2 = panel(pairs_df(p2_runs), panel_titles[1], (86, -6), (100, 25), (-22, 81), "#1616b8", 161)
p3 = panel(pairs_df(p3_runs), panel_titles[2], (126, -2), (118, 23), (-19, 72), "#0a0af0", 158)
p4 = panel(grid_df(p4_gens, p4_runs), panel_titles[3], (125, -5), (116, 25), (-20, 73), "#0a0af0", 161)

chart = alt.concat(small, blank, p1, p2, p3, p4, columns=2,
                   spacing={"row": 42, "column": 106}, bounds="flush", align="each").properties(
    padding=0
).configure(background="#000018").configure_view(strokeWidth=0)

chart.save("out.html", embed_options={"renderer": "svg", "actions": False})
